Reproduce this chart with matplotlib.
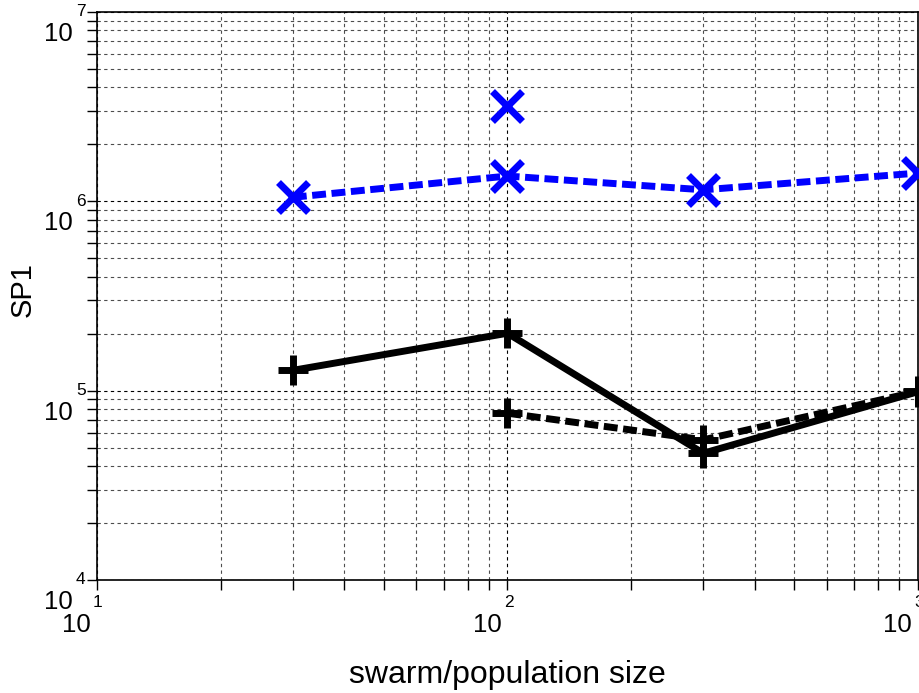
import matplotlib.pyplot as plt
from matplotlib.transforms import offset_copy

# swarm/population sizes
sizes = [30, 100, 300, 1000]
sizes_dashed = [100, 300, 1000]

# SP1 values
sp1_blue = [1.05e6, 1.36e6, 1.15e6, 1.41e6]
sp1_blue_extra_x = [100]
sp1_blue_extra = [3.2e6]
sp1_black_solid = [1.28e5, 2.01e5, 4.67e4, 9.87e4]
sp1_black_dashed = [7.6e4, 5.5e4, 9.9e4]

x_ticks = [10, 100, 1000]
x_exps = ["1", "2", "3"]
y_ticks = [1e4, 1e5, 1e6, 1e7]
y_exps = ["4", "5", "6", "7"]


def main():
    plt.rcParams["font.family"] = ["Liberation Sans", "DejaVu Sans"]
    fig = plt.figure(figsize=(9.2, 6.93), dpi=100)
    ax = fig.add_axes([0.1054, 0.1631, 0.8924, 0.8196])

    ax.set_xscale("log")
    ax.set_yscale("log")
    ax.set_xlim(10, 1000)
    ax.set_ylim(1e4, 1e7)

    ax.plot(sizes, sp1_blue, color="#0000ff", linewidth=5, dashes=(2.0, 0.8),
            marker="x", markersize=22, markeredgewidth=5, zorder=3)
    ax.plot(sp1_blue_extra_x, sp1_blue_extra, linestyle="none", color="#0000ff",
            marker="x", markersize=22, markeredgewidth=5, zorder=3)
    ax.plot(sizes, sp1_black_solid, color="black", linewidth=5,
            marker="+", markersize=22, markeredgewidth=5, zorder=3)
    ax.plot(sizes_dashed, sp1_black_dashed, color="black", linewidth=5, dashes=(2.0, 0.8),
            marker="+", markersize=22, markeredgewidth=5, zorder=3)

    # grid: dashed major + minor
    ax.grid(True, which="major", color="black", linestyle=(0, (3, 3)), linewidth=0.8)
    ax.grid(True, which="minor", color="0.3", linestyle=(0, (3, 3)), linewidth=0.8)
    ax.set_axisbelow(True)

    ax.tick_params(which="both", direction="out", length=7, width=1, color="black")
    ax.tick_params(labelbottom=False, labelleft=False)
    for sp in ax.spines.values():
        sp.set_linewidth(1.2)

    # MATLAB-style tick labels: "10" plus a separate exponent
    xt = ax.get_xaxis_transform()
    yt = ax.get_yaxis_transform()
    for v, e in zip(x_ticks, x_exps):
        ax.text(v, 0, e, fontsize=12.5, ha="center", va="center", clip_on=False,
                transform=offset_copy(xt, fig=fig, x=1, y=-23, units="dots"))
        ax.text(v, 0, "10", fontsize=18.5, ha="right", va="center", clip_on=False,
                transform=offset_copy(xt, fig=fig, x=-6, y=-45, units="dots"))
    for v, e in zip(y_ticks, y_exps):
        ax.text(0, v, e, fontsize=12.5, ha="left", va="center", clip_on=False,
                transform=offset_copy(yt, fig=fig, x=-21, y=0, units="dots"))
        ax.text(0, v, "10", fontsize=18.5, ha="right", va="center", clip_on=False,
                transform=offset_copy(yt, fig=fig, x=-24, y=-22, units="dots"))

    ax.set_xlabel("swarm/population size", fontsize=23)
    ax.xaxis.label.set_va("center")
    ax.xaxis.set_label_coords(0.5, -0.167)
    ax.set_ylabel("SP1", fontsize=21)
    ax.yaxis.label.set_va("center")
    ax.yaxis.set_label_coords(-0.090, 0.511)

    fig.savefig("out.png", dpi=100)


if __name__ == "__main__":
    main()
